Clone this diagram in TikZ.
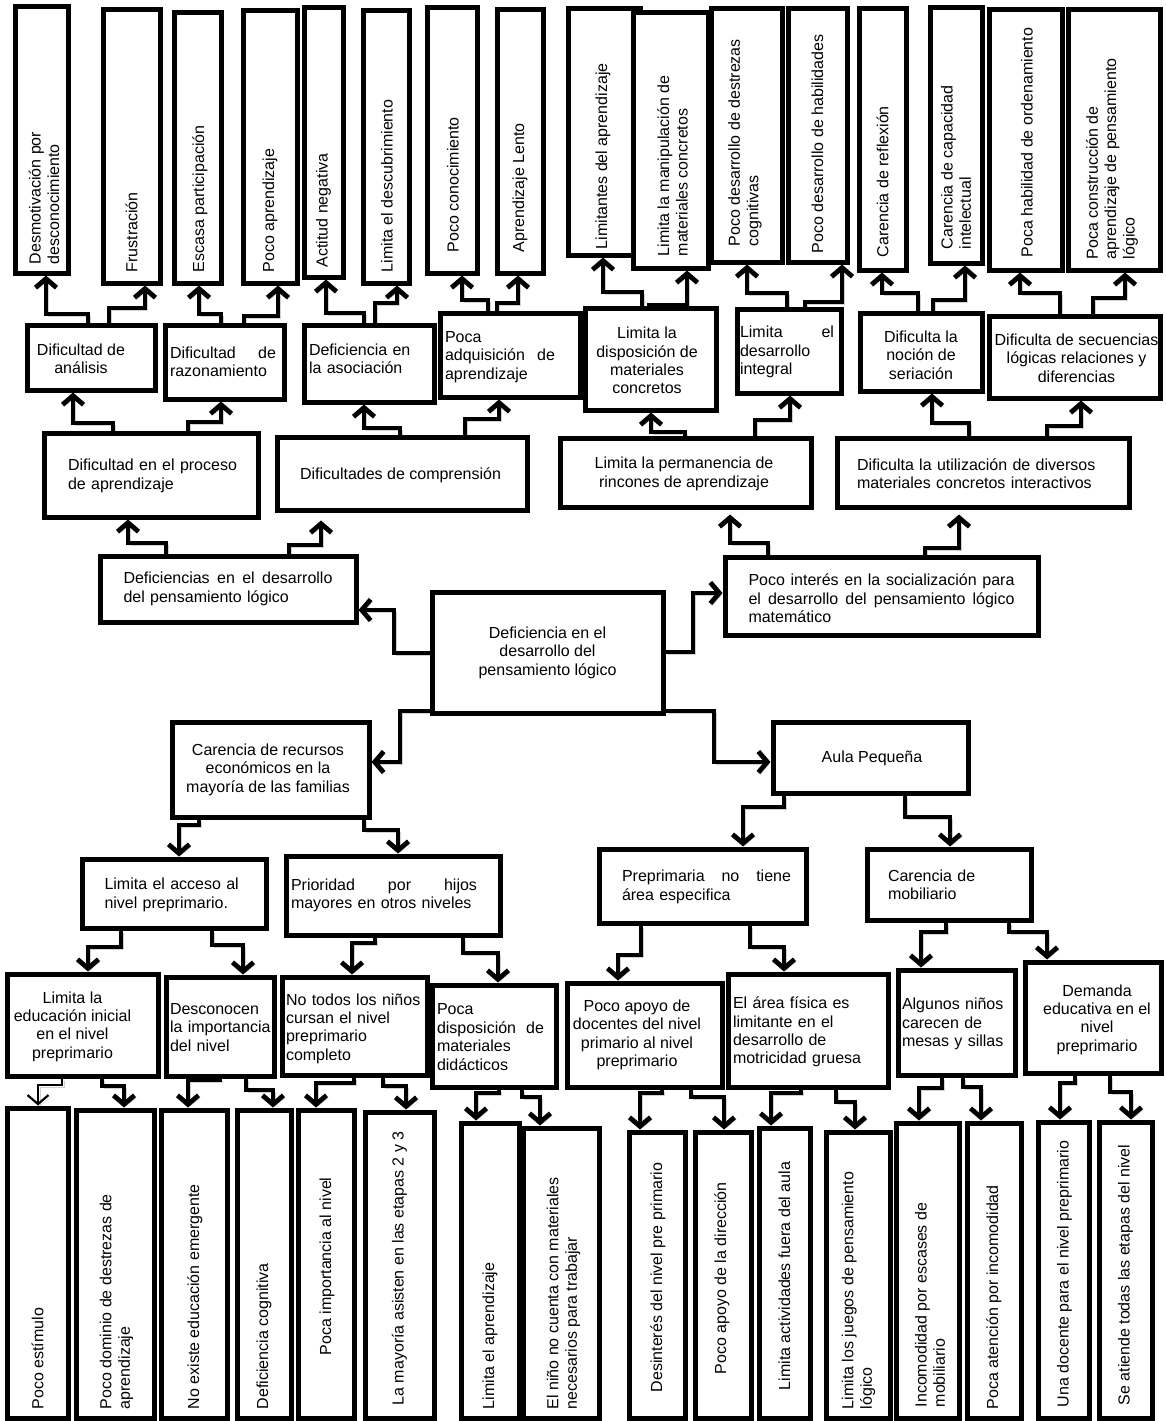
\documentclass[tikz,border=0pt]{standalone}
\usepackage{fontspec}
\setmainfont{Liberation Sans}
\usetikzlibrary{arrows.meta,shadows}
\tikzset{
  box/.style={draw=black, line width=5pt, fill=white, inner sep=0pt,
    drop shadow={shadow xshift=2.5pt, shadow yshift=-2.5pt, opacity=0.3}},
  txt/.style={inner sep=0pt, font=\fontsize{16}{18.4}\selectfont},
  vtxt/.style={txt, rotate=90, anchor=west, align=left},
  arr/.style={line width=4.8pt, -{Straight Barb[length=9pt,width=21pt]},
    preaction={draw=black, opacity=0.18, transform canvas={xshift=2pt,yshift=-2pt}}}
}
% horizontal box: name x1 y1 x2 y2 textoptions text
\newcommand\hbx[7]{%
  \node[box, minimum width={#4-#2}, minimum height={#5-#3}] (#1) at ({(#2+#4)/2},{(#3+#5)/2}) {};
  \node[txt, #6] (#1t) at (#1.center) {#7};}
% tall box: name x1 y1 x2 y2 dx margin text
\newcommand\tbx[8]{%
  \node[box, minimum width={#4-#2}, minimum height={#5-#3}] (#1) at ({(#2+#4)/2},{(#3+#5)/2}) {};
  \node[vtxt] (#1t) at ([xshift=#6pt,yshift=#7pt]#1.south) {#8};}
% elbow connector: [opts] source-anchor xs ymid xt target-anchor
\newcommand\conn[6][]{\draw[arr,#1] (#2 -| #3,0) -- (#3,#4) -- (#5,#4) -- (#6 -| #5,0);}

\begin{document}
\begin{tikzpicture}[x=1pt,y=-1pt]
\fill[white] (0,0) rectangle (1165,1421);
\useasboundingbox (0,0) rectangle (1165,1421);

% ---------- top tall boxes ----------
\tbx{desm}{15}{7}{68}{273}{2.5}{11}{Desmotivación por\\desconocimiento}
\tbx{frus}{103}{10}{160}{283}{0}{13}{Frustración}
\tbx{esc}{174}{13}{221}{283}{2.5}{13}{Escasa participación}
\tbx{pap}{243}{11}{297}{283}{0}{13}{Poco aprendizaje}
\tbx{act}{304}{8}{343}{277}{0}{12}{Actitud negativa}
\tbx{ldes}{363}{11}{409}{283}{1}{13}{Limita el descubrimiento}
\tbx{pcon}{427}{8}{477}{273}{1}{23}{Poco conocimiento}
\tbx{alen}{497}{10}{543}{273}{0}{23}{Aprendizaje Lento}
\tbx{lim}{568}{9}{640}{255}{-1}{8}{Limitantes del aprendizaje}
\tbx{lman}{633}{13}{708}{268}{2}{14}{Limita la manipulación de\\materiales concretos}
\tbx{pdd}{711}{9}{782}{262}{-1.5}{18}{Poco desarrollo de destrezas\\cognitivas}
\tbx{pdh}{788}{9}{847}{262}{0}{11}{Poco desarrollo de habilidades}
\tbx{cref}{859}{9}{906}{270}{0}{15}{Carencia de reflexión}
\tbx{ccap}{930}{8}{982}{263}{0}{16}{Carencia de capacidad\\intelectual}
\tbx{phab}{989}{10}{1062}{270}{1.5}{15}{Poca habilidad de ordenamiento}
\tbx{pcons}{1068}{10}{1160}{270}{-2}{13}{Poca construcción de\\aprendizaje de pensamiento\\lógico}

% ---------- second level ----------
\hbx{dan}{27}{325}{155}{390}{align=center, xshift=-10pt, yshift=-1.5pt}{Dificultad de\\análisis}
\hbx{dra}{165}{325}{284}{399}{text width=106pt, align=left, xshift=-1.5pt}{Dificultad\hfill de\\razonamiento}
\hbx{das}{304}{325}{434}{402}{text width=120pt, align=left, yshift=4.5pt}{Deficiencia en\\la asociación}
\hbx{dpa}{440}{313}{580}{397}{text width=110pt, align=left, xshift=-10pt, yshift=-2pt}{Poca\\adquisición\hfill de\\aprendizaje}
\hbx{dld}{585}{308}{716}{410}{align=center, xshift=-3.5pt, yshift=-1.5pt}{Limita la\\disposición de\\materiales\\concretos}
\hbx{dldi}{737}{309}{841}{393}{text width=94pt, align=left, xshift=-2pt, yshift=-1pt}{Limita\hfill el\\desarrollo\\integral}
\hbx{dns}{860}{313}{982}{391}{align=center, yshift=-3pt}{Dificulta la\\noción de\\seriación}
\hbx{dsec}{989}{316}{1160}{398}{align=center, xshift=2pt, yshift=-1pt}{Dificulta de secuencias\\lógicas relaciones y\\diferencias}

% ---------- third level ----------
\hbx{dpro}{44}{433}{258}{517}{text width=172pt, align=left, xshift=3pt, yshift=-1pt}{Dificultad en el proceso\\de aprendizaje}
\hbx{dcomp}{277}{437}{527}{510}{align=center, xshift=-1.5pt, yshift=-1.5pt}{Dificultades de comprensión}
\hbx{dper}{560}{438}{811}{507}{align=center, xshift=-1.5pt, yshift=-1.5pt}{Limita la permanencia de\\rincones de aprendizaje}
\hbx{duti}{837}{438}{1129}{507}{text width=252pt, align=left, yshift=-1pt}{Dificulta la utilización de diversos\\materiales concretos interactivos}

% ---------- fourth level ----------
\hbx{ddes}{100}{556}{356}{622}{text width=209pt, align=left}{Deficiencias\hfill en\hfill el\hfill desarrollo\\del pensamiento lógico}
\hbx{dint}{725}{557}{1038}{635}{text width=266pt, align=left, yshift=-2.5pt}{Poco\hfill interés\hfill en\hfill la\hfill socialización\hfill para\\el\hfill desarrollo\hfill del\hfill pensamiento\hfill lógico\\matemático}

% ---------- centre ----------
\hbx{cen}{432}{592}{663}{713}{align=center}{Deficiencia en el\\desarrollo del\\pensamiento lógico}

% ---------- lower part ----------
\hbx{dcar}{172}{722}{369}{817}{align=center, xshift=-2.5pt}{Carencia de recursos\\económicos en la\\mayoría de las familias}
\hbx{daula}{773}{722}{968}{793}{align=center, xshift=1.5pt, yshift=-0.5pt}{Aula Pequeña}
\hbx{dacc}{82}{859}{266}{928}{text width=139pt, align=left, yshift=-1.5pt}{Limita el acceso al\\nivel preprimario.}
\hbx{dpri}{286}{856}{500}{935}{text width=186pt, align=left, xshift=-9pt}{Prioridad\hfill por\hfill hijos\\mayores en otros niveles}
\hbx{dpre}{599}{849}{806}{923}{text width=169pt, align=left, xshift=4pt, yshift=-1pt}{Preprimaria\hfill no\hfill tiene\\área especifica}
\hbx{dmob}{867}{849}{1031}{920}{text width=122pt, align=left}{Carencia de\\mobiliario}

\hbx{dedu}{7}{974}{158}{1076}{align=center, xshift=-10pt, yshift=-1.5pt}{Limita la\\educación inicial\\en el nivel\\preprimario}
\hbx{ddesc}{166}{977}{274}{1076}{text width=102pt, align=left, xshift=1pt, yshift=-1pt}{Desconocen\\la importancia\\del nivel}
\hbx{dnot}{282}{977}{427}{1075}{text width=137pt, align=left, yshift=-2.5pt}{No todos los niños\\cursan el nivel\\preprimario\\completo}
\hbx{dpdis}{432}{985}{556}{1087}{text width=107pt, align=left, xshift=-3.5pt, yshift=-1pt}{Poca\\disposición\hfill de\\materiales\\didácticos}
\hbx{dapo}{567}{983}{722}{1087}{align=center, xshift=-7.5pt}{Poco apoyo de\\docentes del nivel\\primario al nivel\\preprimario}
\hbx{darea}{728}{974}{888}{1087}{text width=150pt, align=left, yshift=-1.5pt}{El área física es\\limitante en el\\desarrollo de\\motricidad gruesa}
\hbx{dalg}{898}{970}{1015}{1075}{text width=109pt, align=left, yshift=-1.5pt}{Algunos niños\\carecen de\\mesas y sillas}
\hbx{ddem}{1025}{962}{1161}{1073}{align=center, xshift=4pt, yshift=-2pt}{Demanda\\educativa en el\\nivel\\preprimario}

% ---------- bottom tall boxes ----------
\tbx{pest}{7}{1108}{68}{1418}{0}{11}{Poco estímulo}
\tbx{pdom}{76}{1110}{154}{1418}{1.5}{11}{Poco dominio de destrezas de\\aprendizaje}
\tbx{nex}{161}{1110}{227}{1418}{1}{11}{No existe educación emergente}
\tbx{dcog}{237}{1110}{291}{1418}{0}{11}{Deficiencia cognitiva}
\tbx{pimp}{298}{1110}{354}{1418}{1}{65}{Poca importancia al nivel}
\tbx{lmay}{365}{1112}{434}{1418}{0}{15}{La mayoría asisten en las etapas 2 y 3}
\tbx{lapr}{461}{1123}{519}{1418}{0}{11}{Limita el aprendizaje}
\tbx{nino}{523}{1128}{599}{1418}{2.5}{11}{El niño no cuenta con materiales\\necesarios para trabajar}
\tbx{desi}{629}{1132}{685}{1418}{1}{28}{Desinterés del nivel pre primario}
\tbx{papd}{695}{1132}{751}{1418}{-1}{46}{Poco apoyo de la dirección}
\tbx{lact}{759}{1128}{810}{1418}{0}{30}{Limita actividades fuera del aula}
\tbx{ljue}{826}{1132}{890}{1418}{0.5}{11}{Limita los juegos de pensamiento\\lógico}
\tbx{inco}{896}{1123}{959}{1418}{2.5}{13}{Incomodidad por escases de\\mobiliario}
\tbx{pate}{967}{1123}{1021}{1418}{0}{11}{Poca atención por incomodidad}
\tbx{udoc}{1038}{1122}{1089}{1418}{1}{13}{Una docente para el nivel preprimario}
\tbx{sati}{1099}{1122}{1152}{1418}{0}{15}{Se atiende todas las etapas del nivel}

% ---------- connectors: upper half ----------
\conn{dan.north}{88}{314}{46}{desm.south}
\conn{dan.north}{109}{308}{145}{frus.south}
\conn{dra.north}{221}{314}{199}{esc.south}
\conn{dra.north}{244}{316}{278}{pap.south}
\conn{das.north}{364}{313}{326}{act.south}
\conn{das.north}{375}{303}{397}{ldes.south}
\conn{dpa.north}{488}{300}{462}{pcon.south}
\conn{dpa.north}{497}{303}{518}{alen.south}
\conn{dld.north}{642}{292}{603}{lim.south}
\conn{dld.north}{649}{305}{687}{lman.south}
\conn{dldi.north}{787}{293}{747}{pdd.south}
\conn{dldi.north}{805}{302}{842}{pdh.south}
\conn{dns.north}{918}{293}{882}{cref.south}
\conn{dns.north}{933}{300}{965}{ccap.south}
\conn{dsec.north}{1060}{293}{1020}{phab.south}
\conn{dsec.north}{1093}{298}{1125}{pcons.south}

\conn{dpro.north}{113}{423}{73}{dan.south}
\conn{dpro.north}{188}{422}{221}{dra.south}
\conn{dcomp.north}{400}{428}{364}{das.south}
\conn{dcomp.north}{465}{419}{499}{dpa.south}
\conn{dper.north}{685}{432}{651}{dld.south}
\conn{dper.north}{755}{420}{790}{dldi.south}
\conn{duti.north}{969}{423}{932}{dns.south}
\conn{duti.north}{1047}{426}{1081}{dsec.south}

\conn{ddes.north}{166}{543}{128}{dpro.south}
\conn[shorten >=8pt]{ddes.north}{289}{545}{321}{dcomp.south}
\conn[shorten >=5pt]{dint.north}{768}{543}{730}{dper.south}
\conn[shorten >=5pt]{dint.north}{925}{548}{959}{duti.south}

% ---------- connectors from the centre ----------
\draw[arr] (cen.west |- 0,653) -- (394,653) -- (394,610) -- (ddes.east |- 0,610);
\draw[arr] (cen.east |- 0,652) -- (693,652) -- (693,593) -- (dint.west |- 0,593);
\draw[arr] (cen.west |- 0,711) -- (400,711) -- (400,762) -- (dcar.east |- 0,762);
\draw[arr] (cen.east |- 0,711) -- (714,711) -- (714,762) -- (daula.west |- 0,762);

% ---------- connectors: lower half ----------
\conn{dcar.south}{199}{825}{179}{dacc.north}
\conn{dcar.south}{364}{830}{398}{dpri.north}
\conn{daula.south}{784}{807}{743}{dpre.north}
\conn{daula.south}{905}{817}{950}{dmob.north}
\conn{dacc.south}{121}{947}{88}{dedu.north}
\conn{dacc.south}{212}{945}{243}{ddesc.north}
\conn{dpri.south}{375}{943}{352}{dnot.north}
\conn{dpri.south}{463}{953}{498}{dpdis.north}
\conn{dpre.south}{641}{955}{618}{dapo.north}
\conn{dpre.south}{750}{947}{784}{darea.north}
\conn{dmob.south}{946}{932}{921}{dalg.north}
\conn{dmob.south}{1009}{932}{1047}{ddem.north}

\conn[line width=2.2pt]{dedu.south}{62}{1085}{38}{pest.north}
\conn{dedu.south}{102}{1086}{124}{pdom.north}
\conn{ddesc.south}{220}{1080}{188}{nex.north}
\conn{ddesc.south}{246}{1090}{273}{dcog.north}
\conn{dnot.south}{354}{1083}{316}{pimp.north}
\conn{dnot.south}{383}{1086}{406}{lmay.north}
\conn{dpdis.south}{499}{1093}{476}{lapr.north}
\conn{dpdis.south}{522}{1097}{540}{nino.north}
\conn{dapo.south}{662}{1093}{640}{desi.north}
\conn{dapo.south}{691}{1097}{724}{papd.north}
\conn{darea.south}{801}{1093}{771}{lact.north}
\conn{darea.south}{836}{1102}{855}{ljue.north}
\conn{dalg.south}{942}{1088}{919}{inco.north}
\conn{dalg.south}{963}{1087}{981}{pate.north}
\conn{ddem.south}{1075}{1083}{1060}{udoc.north}
\conn{ddem.south}{1110}{1092}{1131}{sati.north}
\end{tikzpicture}
\end{document}
